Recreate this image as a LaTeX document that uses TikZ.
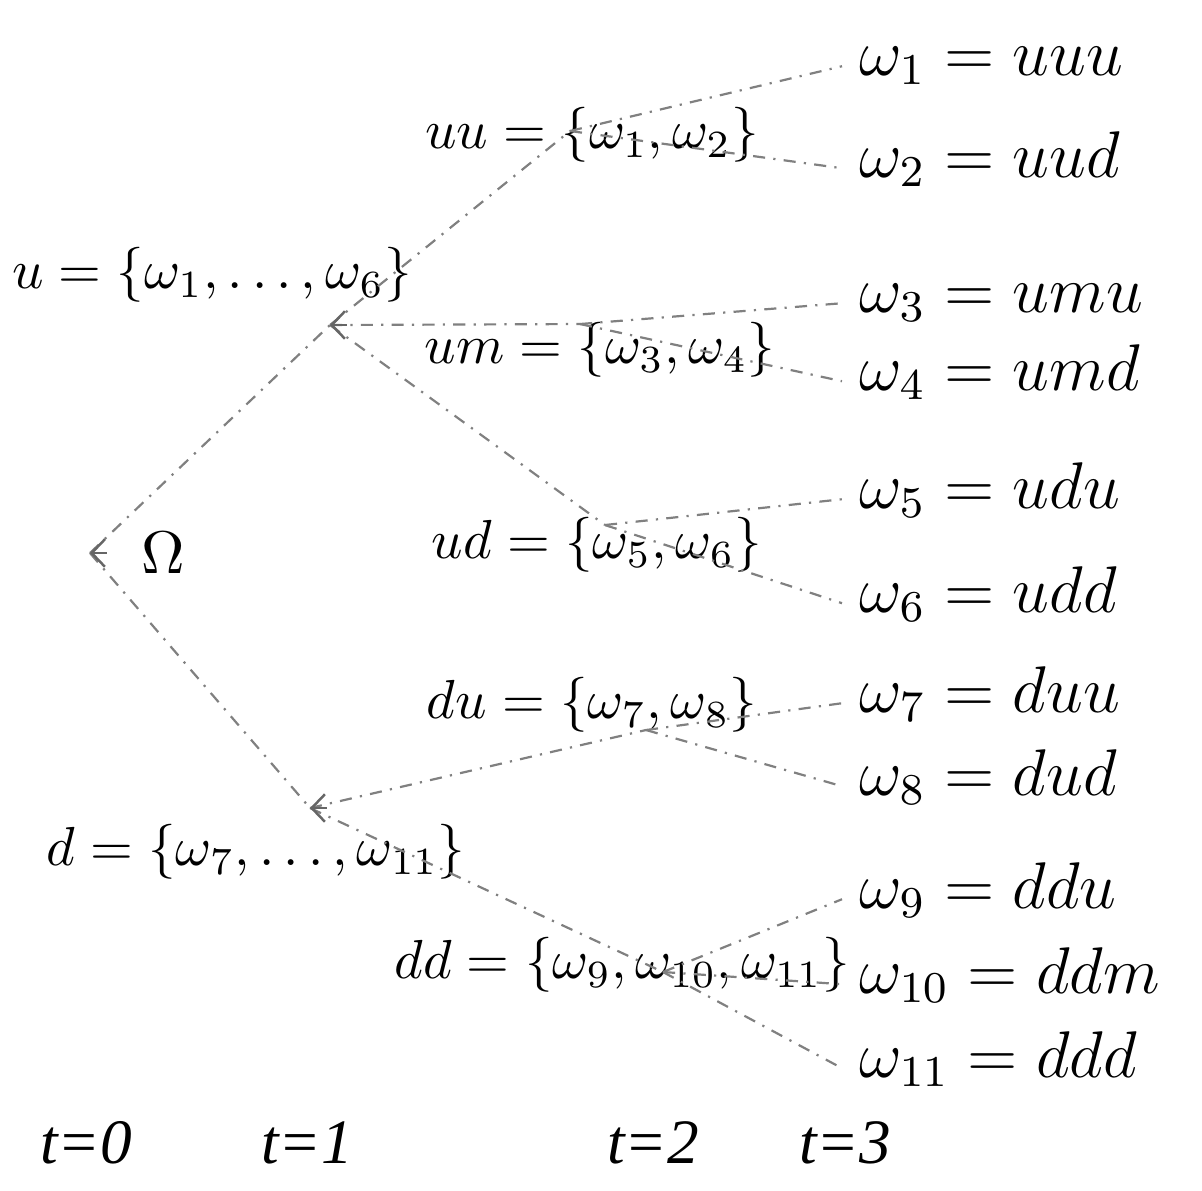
\documentclass[tikz,border=0pt]{standalone}
\usepackage{amsmath,amssymb}
\usepackage{fontspec}
\newfontfamily\timesfont{Liberation Serif}
\usepackage{tikz}
\usetikzlibrary{arrows.meta}

\begin{document}
\begin{tikzpicture}[
x=0.1818pt, y=-0.1818pt,
set/.style={inner sep=0pt, font=\fontsize{10}{12}\selectfont},
bigset/.style={inner sep=0pt, font=\fontsize{10.4}{12}\selectfont},
leaf/.style={anchor=base west, inner xsep=3pt, inner ysep=0pt, text height=5pt, text depth=1.8pt, font=\fontsize{12}{14}\selectfont},
tlab/.style={inner sep=0pt, font=\timesfont\fontsize{11.5}{13}\selectfont\itshape},
edge/.style={black!50, line width=0.4pt, dash pattern=on 2.2pt off 1.5pt on 0.4pt off 1.5pt},
barb/.style={black!60, line width=0.45pt, -{Straight Barb[length=2.4pt,width=5pt]}}
]
\useasboundingbox (0,0) rectangle (1202,1190);

% branch points
\coordinate (R) at (90,553);
\coordinate (bU) at (330,325);
\coordinate (bD) at (310,808);
\coordinate (bUU) at (570,131);
\coordinate (bUM) at (580,324);
\coordinate (bUD) at (605,525);
\coordinate (bDU) at (646,730);
\coordinate (bDD) at (663,972);

% sets
\node[set] (Om) at (163,553) {\fontsize{11}{12}\selectfont$\Omega$};
\node[bigset] (u) at (212,275) {$u = \{\omega_1, \ldots, \omega_6\}$};
\node[bigset] (d) at (256,852) {$d = \{\omega_7, \ldots, \omega_{11}\}$};
\node[set] (uu) at (592,135) {$uu = \{\omega_1, \omega_2\}$};
\node[set] (um) at (600,350) {$um = \{\omega_3, \omega_4\}$};
\node[set] (ud) at (597,545) {$ud = \{\omega_5, \omega_6\}$};
\node[set] (du) at (592,705) {$du = \{\omega_7, \omega_8\}$};
\node[set] (dd) at (622,965) {$dd = \{\omega_9, \omega_{10}, \omega_{11}\}$};

% outcomes
\foreach \i/\yy/\s in {1/75/uuu, 2/177/uud, 3/312/umu, 4/390/umd, 5/508/udu, 6/612/udd,
  7/712/duu, 8/795/dud, 9/908/ddu, 10/993/ddm, 11/1077/ddd}
  \node[leaf] (w\i) at (842,\yy) {$\omega_{\i} = \s$};

% times
\node[tlab] (t0) at (86,1143) {t=0};
\node[tlab] (t1) at (307,1143) {t=1};
\node[tlab] (t2) at (653,1143) {t=2};
\node[tlab] (t3) at (845,1143) {t=3};

\draw[edge] (R) -- (bU);
\draw[edge] (R) -- (bD);
\draw[edge] (bU) -- (bUU);
\draw[edge] (bU) -- (bUM);
\draw[edge] (bU) -- (bUD);
\draw[edge] (bD) -- (bDU);
\draw[edge] (bD) -- (bDD);
\foreach \p/\a/\b in {bUU/w1/w2, bUM/w3/w4, bUD/w5/w6, bDU/w7/w8, bDD/w9/w11}{
  \draw[edge] (\p) -- (\a.west);
  \draw[edge] (\p) -- (\b.west);
}
\draw[edge] (bDD) -- (w10.west);

\foreach \p in {R, bU, bD}
  \draw[barb] (\p) +(3pt,0) -- (\p);
\end{tikzpicture}
\end{document}
